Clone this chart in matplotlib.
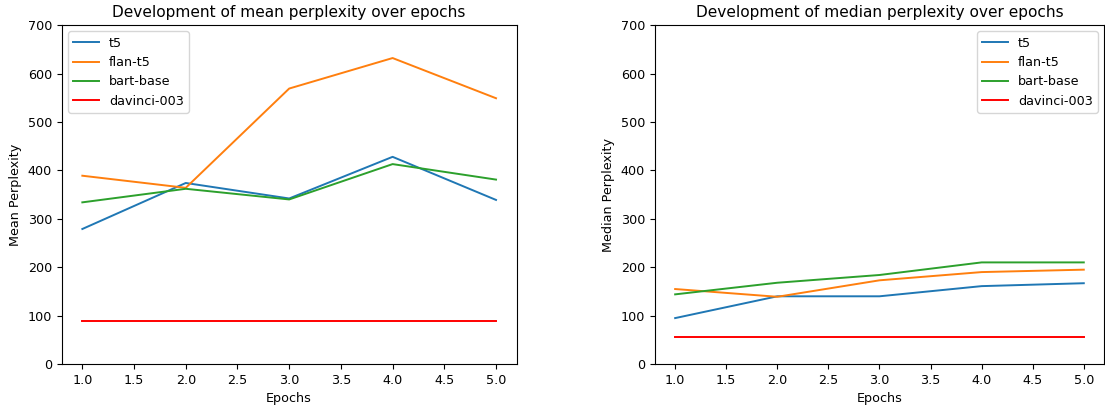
import numpy as np
import matplotlib
matplotlib.use("Agg")
import matplotlib.pyplot as plt

plt.rcParams['font.size'] = 9.2
plt.rcParams['lines.linewidth'] = 1.4

epochs = [1.0, 2.0, 3.0, 4.0, 5.0]

mean_t5 = [279, 374, 342, 428, 339]
mean_flan = [389, 364, 569, 632, 549]
mean_bart = [334, 362, 340, 413, 381]
mean_davinci = [90, 90, 90, 90, 90]

median_t5 = [95, 140, 140, 161, 167]
median_flan = [155, 139, 173, 190, 195]
median_bart = [144, 168, 184, 210, 210]
median_davinci = [56, 56, 56, 56, 56]

fig = plt.figure(figsize=(11.05, 4.05), dpi=100)
ax1 = fig.add_axes([0.0558, 0.101, 0.4118, 0.837])
ax2 = fig.add_axes([0.5925, 0.101, 0.4068, 0.837])


def draw(ax, t5, flan, bart, dav, ylabel, title, loc):
    ax.plot(epochs, t5, label='t5')
    ax.plot(epochs, flan, label='flan-t5')
    ax.plot(epochs, bart, label='bart-base')
    ax.plot(epochs, dav, color='red', label='davinci-003')
    ax.set_ylim(0, 700)
    ax.set_xlabel('Epochs')
    ax.set_ylabel(ylabel)
    ax.set_title(title)
    ax.legend(loc=loc)


draw(ax1, mean_t5, mean_flan, mean_bart, mean_davinci,
     'Mean Perplexity', 'Development of mean perplexity over epochs', 'upper left')
draw(ax2, median_t5, median_flan, median_bart, median_davinci,
     'Median Perplexity', 'Development of median perplexity over epochs', 'upper right')

fig.savefig('out.png', dpi=100)
